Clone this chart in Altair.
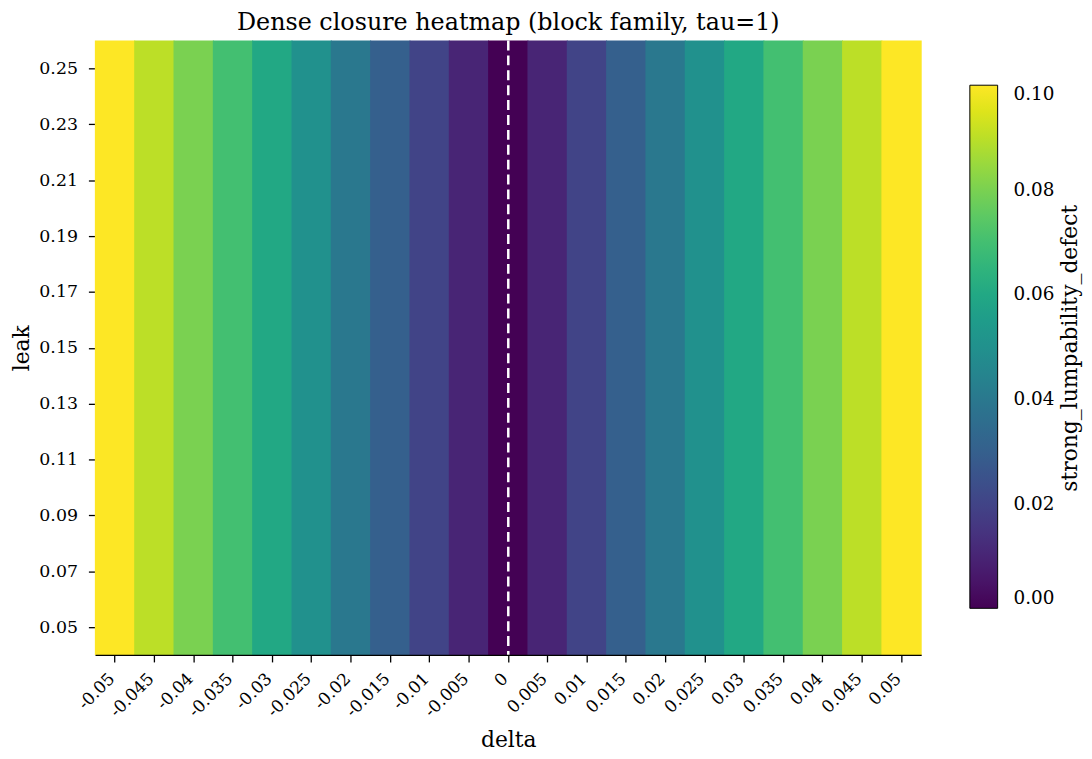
import altair as alt
import pandas as pd

# Data
delta = ["-0.05", "-0.045", "-0.04", "-0.035", "-0.03", "-0.025", "-0.02", "-0.015",
         "-0.01", "-0.005", "0", "0.005", "0.01", "0.015", "0.02", "0.025", "0.03",
         "0.035", "0.04", "0.045", "0.05"]
defect = [0.10, 0.09, 0.08, 0.07, 0.06, 0.05, 0.04, 0.03, 0.02, 0.01, 0.0,
          0.01, 0.02, 0.03, 0.04, 0.05, 0.06, 0.07, 0.08, 0.09, 0.10]
leak = ["0.05", "0.07", "0.09", "0.11", "0.13", "0.15", "0.17", "0.19", "0.21", "0.23", "0.25"]
legend_ticks = [0.0, 0.02, 0.04, 0.06, 0.08, 0.10]
colorbar_title = "strong_lumpability_defect"

# the value does not change with leak, so each delta column is one full-height cell
col_df = pd.DataFrame({"delta": delta, "strong_lumpability_defect": defect})
leak_df = pd.DataFrame({"leak": leak})
zero_df = pd.DataFrame({"delta": ["0"]})
cb_title_df = pd.DataFrame({"t": [colorbar_title]})

FONT = "DejaVu Serif"

x_enc = alt.X("delta:N", sort=delta, title="delta",
              scale=alt.Scale(paddingInner=0, paddingOuter=0),
              axis=alt.Axis(labelAngle=-45, labelAlign="right", labelBaseline="middle",
                            labelFontSize=17, titleFontSize=22, titleFontWeight="normal",
                            titlePadding=10, tickSize=7, labelPadding=14, labelOffset=-3))

# slightly wider than the band so neighbouring cells overlap and no seams show
heat = alt.Chart(col_df).mark_rect(width=40.6).encode(
    x=x_enc,
    color=alt.Color("strong_lumpability_defect:Q",
                    scale=alt.Scale(scheme="viridis", domain=[0, 0.1]),
                    legend=alt.Legend(title=None, orient="none",
                                      legendX=881, legendY=45, direction="vertical",
                                      gradientLength=527, gradientThickness=28,
                                      gradientStrokeColor="black", gradientStrokeWidth=1,
                                      values=legend_ticks, format=".2f",
                                      labelFontSize=18.5, labelOffset=16)),
)

leak_axis = alt.Chart(leak_df).mark_point(opacity=0).encode(
    y=alt.Y("leak:N", sort=list(reversed(leak)), title="leak",
            scale=alt.Scale(paddingInner=0, paddingOuter=0),
            axis=alt.Axis(labelFontSize=17.5, titleFontSize=22, titleFontWeight="normal",
                          titlePadding=5, tickSize=7, labelPadding=11)),
)

zero_line = alt.Chart(zero_df).mark_rule(color="white", strokeDash=[10, 5], strokeWidth=2.5).encode(
    x=alt.X("delta:N", sort=delta, bandPosition=0.5)
)

cb_title = alt.Chart(cb_title_df).mark_text(
    angle=270, fontSize=22, font=FONT, color="black", align="center", baseline="middle"
).encode(text="t:N", x=alt.value(982), y=alt.value(310))

chart = (heat + leak_axis + zero_line + cb_title).properties(
    width=832, height=619,
    title=alt.TitleParams("Dense closure heatmap (block family, tau=1)",
                          fontSize=24, fontWeight="normal", font=FONT, offset=4),
    autosize=alt.AutoSizeParams(type="none"),
    padding={"left": 88, "top": 30, "right": 164, "bottom": 100},
).configure(font=FONT).configure_view(stroke=None).configure_axis(
    domainColor="black", domainWidth=1.3, tickColor="black", tickWidth=1.3,
    labelColor="black", titleColor="black", labelFont=FONT, titleFont=FONT, grid=False
).configure_legend(labelFont=FONT, titleFont=FONT, labelColor="black", titleColor="black")

chart.save("out.html", embed_options={"renderer": "svg", "actions": False})
